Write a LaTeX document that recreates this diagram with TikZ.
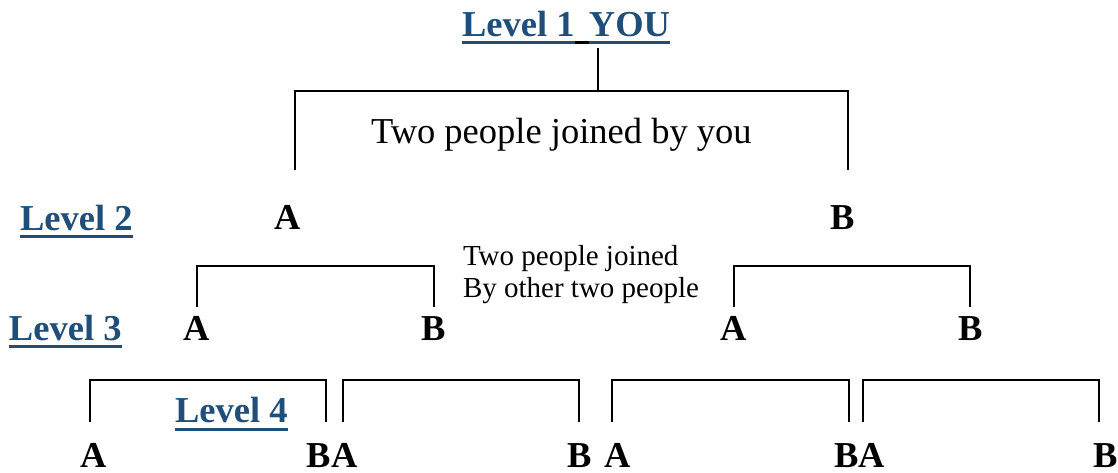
\documentclass[tikz,border=0pt]{standalone}
\usepackage{fontspec}
\setmainfont{Liberation Serif}
\definecolor{lvlblue}{HTML}{1F4E79}
\begin{document}
\begin{tikzpicture}[x=1pt,y=-1pt,
  big/.style={inner sep=0pt,outer sep=0pt,anchor=base west,font=\fontsize{36.5}{40}\selectfont\bfseries},
  lvl/.style={big,text=lvlblue},
  plain/.style={inner sep=0pt,outer sep=0pt,anchor=base west,font=\fontsize{36.5}{40}\selectfont},
  small/.style={inner sep=0pt,outer sep=0pt,anchor=base west,font=\fontsize{29}{32}\selectfont},
  ul/.style={draw=lvlblue,line width=3pt},
  br/.style={draw=black,line width=1.6pt}]
\useasboundingbox (0,0) rectangle (1118,472);
% Level 1
\node[lvl] (l1a) at (462,36) {Level 1};
\node[lvl,anchor=base east] (l1b) at (670,36) {YOU};
\draw[ul] ([yshift=-6.5pt]l1a.base west) -- ([yshift=-6.5pt]l1a.base east);
\draw[line width=3pt,black] ([yshift=-6.5pt]l1a.base east) -- ([yshift=-6.5pt]l1b.base west);
\draw[ul] ([yshift=-6.5pt]l1b.base west) -- ([yshift=-6.5pt]l1b.base east);
\coordinate (u1) at (598,48);
\coordinate (j1) at (598,91);
\draw[br] (u1) -- (j1);
% top bracket
\coordinate (t2l) at (295,170);
\coordinate (t2r) at (848,170);
\draw[br] (t2l) |- (j1) -| (t2r);
\node[plain] (joinyou) at (371,143) {Two people joined by you};
% Level 2
\node[lvl] (l2) at (20,230) {Level 2};
\draw[ul] ([yshift=-6.5pt]l2.base west) -- ([yshift=-6.5pt]l2.base east);
\node[big] (a2) at (274,229) {A};
\node[big] (b2) at (830,229) {B};
\node[small] (s1) at (463,265) {Two people joined};
\node[small] (s2) at (463,297) {By other two people};
% level 3 brackets
\coordinate (p3a) at (197,307); \coordinate (p3b) at (434,307);
\coordinate (p3c) at (734,307); \coordinate (p3d) at (970,307);
\draw[br] (p3a) -- ++(0,-41) -| (p3b);
\draw[br] (p3c) -- ++(0,-41) -| (p3d);
% Level 3
\node[lvl] (l3) at (9,340) {Level 3};
\draw[ul] ([yshift=-6.5pt]l3.base west) -- ([yshift=-6.5pt]l3.base east);
\node[big] (a3a) at (183,340) {A};
\node[big] (b3a) at (421,340) {B};
\node[big] (a3b) at (720,340) {A};
\node[big] (b3b) at (958,340) {B};
% level 4 brackets
\coordinate (q1) at (90,422); \coordinate (q2) at (326,422);
\coordinate (q3) at (343,422); \coordinate (q4) at (579,422);
\coordinate (q5) at (612,422); \coordinate (q6) at (849,422);
\coordinate (q7) at (863,422); \coordinate (q8) at (1099,422);
\draw[br] (q1) -- ++(0,-42) -| (q2);
\draw[br] (q3) -- ++(0,-42) -| (q4);
\draw[br] (q5) -- ++(0,-42) -| (q6);
\draw[br] (q7) -- ++(0,-42) -| (q8);
% Level 4
\node[lvl] (l4) at (175,422) {Level 4};
\draw[ul] ([yshift=-7pt]l4.base west) -- ([yshift=-7pt]l4.base east);
\node[big] (a4a) at (80,467) {A};
\node[big] (b4a) at (306,467) {B};
\node[big] (a4b) at (331,467) {A};
\node[big] (b4b) at (567,467) {B};
\node[big] (a4c) at (604,467) {A};
\node[big] (b4c) at (834,467) {B};
\node[big] (a4d) at (858,467) {A};
\node[big] (b4d) at (1093,467) {B};
\end{tikzpicture}
\end{document}
